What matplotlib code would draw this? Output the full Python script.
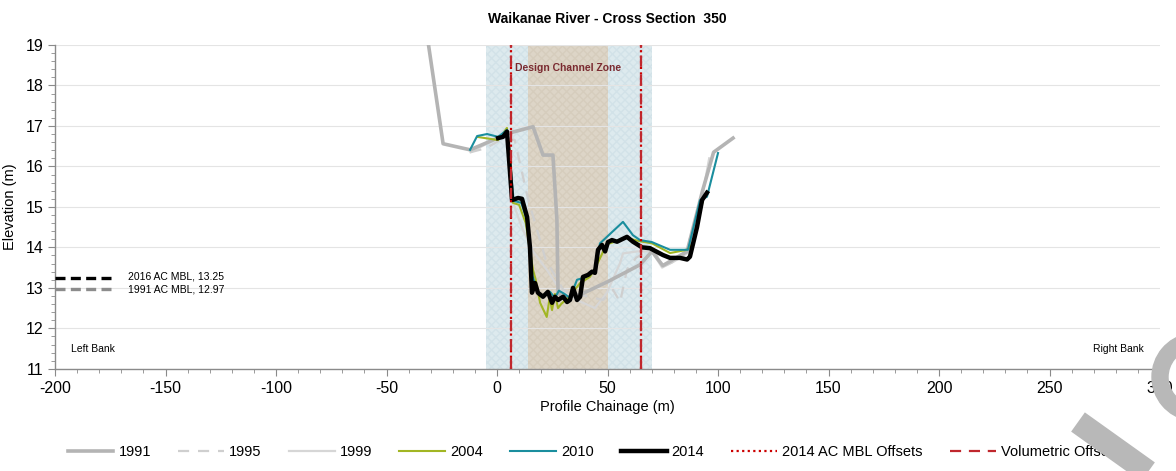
import matplotlib
matplotlib.use("Agg")
import matplotlib.pyplot as plt
from matplotlib.lines import Line2D
from matplotlib.patches import Wedge
from matplotlib.transforms import IdentityTransform
from matplotlib.ticker import MultipleLocator

plt.rcParams['font.family'] = ['Liberation Sans', 'DejaVu Sans']
plt.rcParams['axes.unicode_minus'] = False

# ---- survey profiles: chainage (m) and elevation (m) ----
x_1991 = [-31.0, -24.4, -12.2, 5.9, 16.3, 20.8, 25.3, 27.1, 27.6, 30.0, 37.6, 50.0, 64.7, 70.1, 75.0, 86.0, 93.0, 98.0, 106.8]
y_1991 = [19.0, 16.56, 16.41, 16.83, 16.98, 16.28, 16.28, 14.68, 12.88, 12.75, 12.83, 13.15, 13.57, 13.90, 13.55, 13.90, 15.40, 16.35, 16.70]

x_1995 = [-12.0, -5.0, 3.0, 8.0, 14.0, 22.0, 30.0, 40.0, 48.0, 52.5, 55.7, 58.8, 63.0, 70.0, 76.0, 84.0, 90.0]
y_1995 = [16.35, 16.45, 16.70, 16.65, 15.20, 13.70, 12.95, 12.80, 12.70, 12.95, 12.65, 13.45, 13.75, 13.95, 13.55, 13.75, 14.60]

x_1999 = [-12.0, -5.0, 2.0, 5.5, 7.3, 11.2, 16.3, 22.5, 28.5, 36.0, 44.3, 49.7, 55.6, 57.0, 63.3, 70.1, 74.7, 80.0, 86.0, 92.0, 96.0]
y_1999 = [16.35, 16.55, 16.75, 16.70, 15.10, 14.50, 13.90, 13.45, 12.95, 12.70, 12.50, 12.88, 13.60, 13.85, 13.90, 13.90, 13.50, 13.65, 13.85, 15.00, 16.20]

x_2004 = [-9.0, 0.5, 4.5, 6.0, 7.2, 10.0, 13.0, 16.3, 17.5, 19.5, 22.5, 23.8, 24.9, 26.2, 27.6, 29.0, 31.0, 33.0, 37.6, 42.0, 45.0, 49.8, 51.0, 58.8, 64.7, 70.1, 78.3, 86.0, 88.7, 93.2]
y_2004 = [16.73, 16.65, 16.95, 16.20, 15.10, 15.05, 14.60, 13.44, 13.20, 12.63, 12.28, 12.75, 12.45, 12.85, 12.50, 12.60, 12.70, 12.80, 13.12, 13.27, 13.55, 14.10, 14.10, 14.23, 14.15, 14.10, 13.86, 13.94, 14.10, 15.17]

x_2010 = [-12.2, -9.0, -4.5, 0.5, 4.5, 6.5, 7.5, 11.0, 14.0, 16.0, 18.5, 21.0, 24.0, 26.2, 28.0, 30.5, 33.0, 36.2, 39.5, 44.3, 46.6, 57.0, 61.5, 64.7, 70.1, 78.3, 86.4, 91.9, 95.0, 100.0]
y_2010 = [16.41, 16.75, 16.80, 16.73, 16.90, 15.80, 15.15, 15.10, 14.60, 13.30, 12.88, 12.80, 12.90, 12.75, 12.93, 12.85, 12.75, 13.20, 13.25, 13.44, 14.10, 14.63, 14.30, 14.18, 14.13, 13.94, 13.94, 15.17, 15.25, 16.33]

x_2014 = [0.5, 2.7, 4.5, 6.8, 9.5, 11.3, 13.6, 14.9, 15.8, 17.2, 18.5, 20.8, 23.0, 24.9, 26.2, 27.6, 29.9, 31.7, 33.0, 34.4, 36.2, 37.6, 38.9, 41.2, 43.0, 44.3, 45.7, 47.5, 48.9, 50.2, 52.0, 54.3, 58.8, 61.5, 65.6, 69.2, 75.1, 78.3, 82.8, 86.0, 87.3, 90.5, 92.8, 95.0]
y_2014 = [16.70, 16.73, 16.86, 15.17, 15.22, 15.20, 14.75, 14.00, 12.88, 13.12, 12.88, 12.78, 12.90, 12.63, 12.78, 12.70, 12.78, 12.65, 12.70, 13.00, 12.70, 12.78, 13.27, 13.32, 13.40, 13.37, 13.94, 14.06, 13.90, 14.13, 14.18, 14.14, 14.26, 14.14, 14.00, 13.98, 13.81, 13.74, 13.74, 13.70, 13.77, 14.50, 15.17, 15.35]

# ---- reference levels and design zones ----
mbl_2016 = 13.25
mbl_1991 = 12.97
mbl_x = [-200, -174]
volumetric_offsets = [6.5, 65.3]
mbl_offsets_2014 = [6.5, 65.3]
channel_buffer = (-5.0, 70.0)
design_channel = (14.0, 50.0)

RED = '#c0272d'

fig = plt.figure(figsize=(11.76, 4.71), dpi=100)
ax = fig.add_axes([0.0468, 0.217, 0.9396, 0.6875])

# zones
ax.axvspan(*channel_buffer, facecolor='#ddeaee', edgecolor='#d2e2e8', hatch='xxxx', linewidth=0, zorder=0)
ax.axvspan(*design_channel, facecolor='#ddd5c7', edgecolor='#d6cdbd', hatch='xxxx', linewidth=0, zorder=0.5)
ax.text(8.1, 18.42, 'Design Channel Zone', color='#7a2a30', fontsize=7.5, fontweight='bold', va='center', ha='left')

# profiles
ax.plot(x_1999, y_1999, color='#d6d6d6', lw=1.6, zorder=2)
ax.plot(x_1995, y_1995, color='#cfcfcf', lw=1.6, ls=(0, (5, 4)), zorder=2)
ax.plot(x_1991, y_1991, color='#b4b4b4', lw=2.6, zorder=2.5)
ax.plot(x_2004, y_2004, color='#a2b623', lw=1.5, zorder=3)
ax.plot(x_2010, y_2010, color='#1a8e9e', lw=1.5, zorder=3.2)
ax.plot(x_2014, y_2014, color='black', lw=3.2, zorder=3.5, solid_joinstyle='round')

# offsets
for xo in mbl_offsets_2014:
    ax.axvline(xo, color='#cc0000', lw=1.6, ls=(0, (1, 1.5)), zorder=3.6)
for xo in volumetric_offsets:
    ax.axvline(xo, color=RED, lw=1.6, ls=(0, (5, 3.5)), zorder=3.7)

# mean bed levels
ax.plot(mbl_x, [mbl_2016] * 2, color='black', lw=2.4, ls=(0, (3, 1.6)), zorder=4, clip_on=False)
ax.plot(mbl_x, [mbl_1991] * 2, color='#8c8c8c', lw=2.4, ls=(0, (3, 1.6)), zorder=4, clip_on=False)
ax.text(-167, mbl_2016 + 0.02, f'2016 AC MBL, {mbl_2016:.2f}', fontsize=7.5, va='center', ha='left')
ax.text(-167, mbl_1991 - 0.02, f'1991 AC MBL, {mbl_1991:.2f}', fontsize=7.5, va='center', ha='left')

ax.text(-193, 11.48, 'Left Bank', fontsize=7.5, va='center', ha='left')
ax.text(269.5, 11.48, 'Right Bank', fontsize=7.5, va='center', ha='left')

ax.set_xlim(-200, 300)
ax.set_ylim(11, 19)
ax.xaxis.set_major_locator(MultipleLocator(50))
ax.xaxis.set_minor_locator(MultipleLocator(10))
ax.yaxis.set_major_locator(MultipleLocator(1))
ax.yaxis.set_minor_locator(MultipleLocator(0.2))
ax.grid(axis='y', which='major', color='#e4e4e4', lw=0.8, zorder=0.8)
ax.set_axisbelow(True)
for s in ('top', 'right'):
    ax.spines[s].set_visible(False)
for s in ('left', 'bottom'):
    ax.spines[s].set_color('#8a8a8a')
    ax.spines[s].set_linewidth(1.0)
ax.tick_params(which='both', color='#8a8a8a', labelsize=11.5)
ax.tick_params(which='major', length=5)
ax.tick_params(which='minor', length=3)

ax.set_xlabel('Profile Chainage (m)', fontsize=10.5, labelpad=3)
ax.set_ylabel('Elevation (m)', fontsize=10.5, labelpad=6)
ax.set_title('Waikanae River - Cross Section  350', fontsize=10, fontweight='bold', pad=16)

handles = [
    Line2D([], [], color='#b4b4b4', lw=2.6),
    Line2D([], [], color='#cfcfcf', lw=1.6, ls=(0, (5, 4))),
    Line2D([], [], color='#d6d6d6', lw=1.6),
    Line2D([], [], color='#a2b623', lw=1.5),
    Line2D([], [], color='#1a8e9e', lw=1.5),
    Line2D([], [], color='black', lw=3.2),
    Line2D([], [], color='#cc0000', lw=1.6, ls=(0, (1, 1.5))),
    Line2D([], [], color=RED, lw=1.6, ls=(0, (5, 3.5))),
]
labels = ['1991', '1995', '1999', '2004', '2010', '2014', '2014 AC MBL Offsets', 'Volumetric Offsets']
fig.legend(handles, labels, loc='center', bbox_to_anchor=(0.505, 0.04), ncol=8, frameon=False,
           fontsize=10.5, handlelength=3.15, columnspacing=1.85, handletextpad=0.35)

# grey draft stamp fragments along the lower-right edge (pixel coordinates, origin bottom-left)
H = 471
px = IdentityTransform()
fig.add_artist(Line2D([1078, 1162], [H - 422, H - 482], color='#b8b8b8', lw=17,
                      solid_capstyle='butt', transform=px, zorder=10, clip_on=False))
fig.add_artist(Wedge((1196, H - 377), 44, 100, 260, width=16, color='#b8b8b8',
                     transform=px, zorder=10))

fig.savefig('out.png', dpi=100)
